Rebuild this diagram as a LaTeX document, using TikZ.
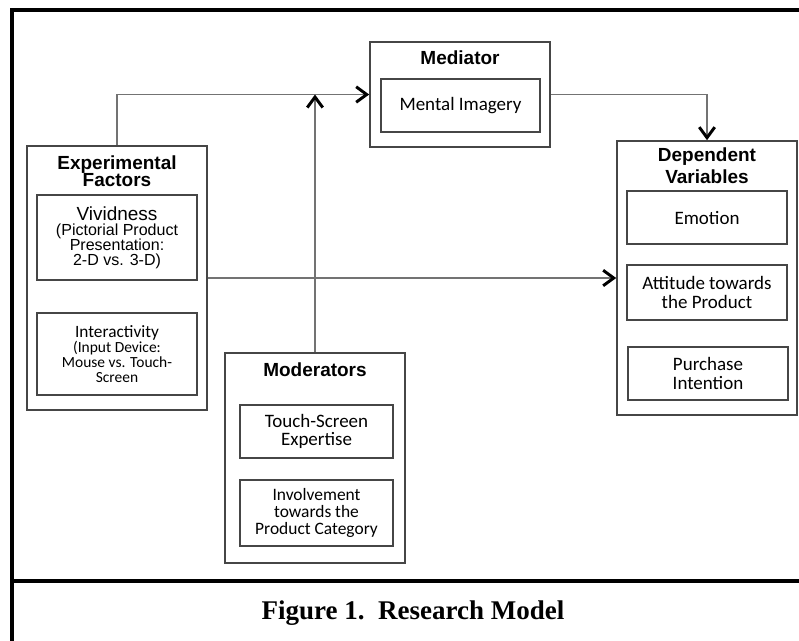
\documentclass[tikz,border=0pt]{standalone}
\usepackage{fontspec}
\setmainfont{Liberation Sans}
\newfontfamily\calibri{Carlito}
\newfontfamily\timesfont{Liberation Serif}
\usetikzlibrary{arrows.meta}
\definecolor{boxgray}{RGB}{70,70,70}
\definecolor{linegray}{RGB}{115,115,115}
\tikzset{
	chev/.tip={Straight Barb[length=7.5pt,width=11pt,line width=2.1pt,color=black]},
	outerbox/.style={draw=boxgray,line width=1.1pt,inner sep=0pt},
	innerbox/.style={draw=boxgray,line width=1.1pt,inner sep=0pt,align=center,
		font=\calibri\fontsize{13.5}{13}\selectfont},
	head/.style={align=center,inner sep=0pt,font=\bfseries\fontsize{13.5}{12.5}\selectfont},
	conn/.style={draw=linegray,line width=0.8pt,-chev},
	frame/.style={line width=2.2pt,black}
}

\begin{document}
\begin{tikzpicture}[x=0.025cm,y=-0.025cm]
	\useasboundingbox (0,0) rectangle (799,640);
	\draw[frame] (12,660) -- (12,10) -- (830,10);
	\draw[frame] (12,581) -- (830,581);
	\node[outerbox,minimum width=4.5cm,minimum height=6.6cm] (ef) at (117,278) {};
	\node[outerbox,minimum width=4.5cm,minimum height=2.625cm] (med) at (460,94.5) {};
	\node[outerbox,minimum width=4.5cm,minimum height=6.85cm] (dv) at (707,278) {};
	\node[outerbox,minimum width=4.5cm,minimum height=5.25cm] (mod) at (315,458) {};
	\node[head] (efhead) at (117,171) {Experimental\\Factors};
	\node[head] (medhead) at (460,58) {Mediator};
	\node[head,font=\bfseries\fontsize{13.5}{15.6}\selectfont] (dvhead) at (707,166) {Dependent\\Variables};
	\node[head] (modhead) at (315,370) {Moderators};
	\node[innerbox,minimum width=4cm,minimum height=2.125cm,font=\fontsize{11.4}{10.7}\selectfont] (vivid) at (117,237.5)
		{{\fontsize{13.5}{13}\selectfont Vividness}\\(Pictorial Product\\Presentation:\\2-D vs. 3-D)};
	\node[innerbox,minimum width=4cm,minimum height=2.05cm,font=\calibri\fontsize{11}{10.7}\selectfont] (inter) at (117,354)
		{{\fontsize{12.3}{12}\selectfont Interactivity}\\(Input Device:\\Mouse vs. Touch-\\Screen};
	\node[innerbox,minimum width=3.975cm,minimum height=1.325cm] (imagery) at (460.5,105.5) {Mental Imagery};
	\node[innerbox,minimum width=4cm,minimum height=1.325cm] (emotion) at (707,217.5) {Emotion};
	\node[innerbox,minimum width=4cm,minimum height=1.375cm] (attitude) at (707,292.5) {Attitude towards\\the Product};
	\node[innerbox,minimum width=4cm,minimum height=1.325cm] (purchase) at (708,373.5) {Purchase\\Intention};
	\node[innerbox,minimum width=3.825cm,minimum height=1.325cm] (expertise) at (316.5,431.5) {Touch-Screen\\Expertise};
	\node[innerbox,minimum width=3.825cm,minimum height=1.65cm,font=\calibri\fontsize{12.4}{11.8}\selectfont] (involve) at (316.5,513)
		{Involvement\\towards the\\Product Category};
	\draw[conn] (ef.north) |- (med.west);
	\draw[conn] (mod.north) -- (mod.north |- med.west);
	\draw[conn] (ef.east) -- (dv.west);
	\draw[conn] (med.east) -| (dv.north);
	\node[font=\timesfont\bfseries\fontsize{19.2}{22}\selectfont] (caption) at (413,613) {Figure 1.\ \ Research Model};
\end{tikzpicture}
\end{document}
